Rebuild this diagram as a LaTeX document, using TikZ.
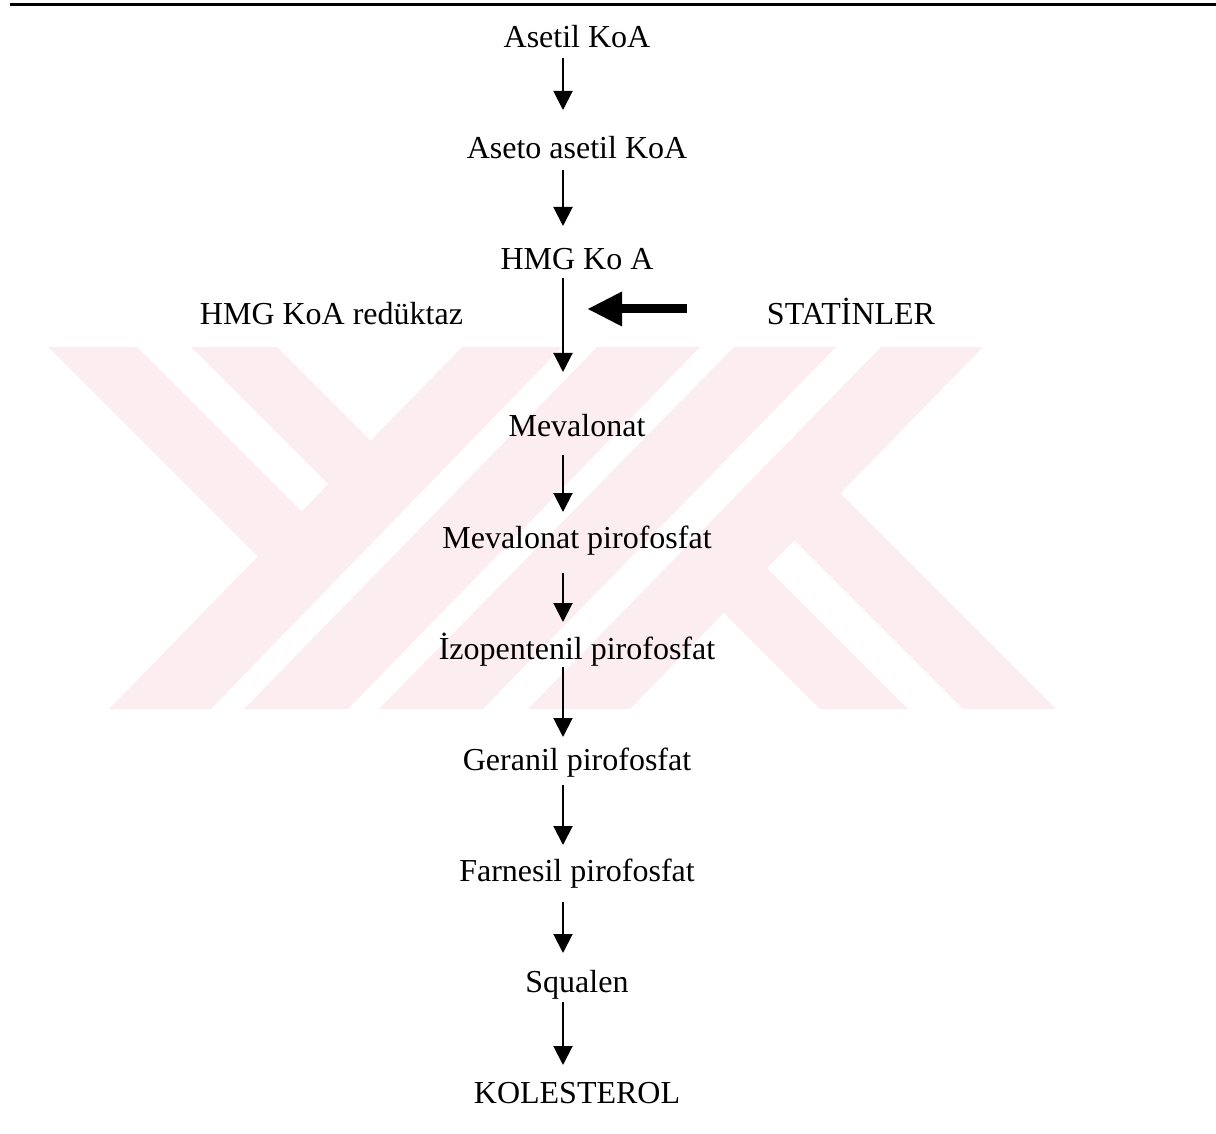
\documentclass[tikz,border=0pt]{standalone}
\usepackage{fontspec}
\setmainfont{Liberation Serif}
\usetikzlibrary{arrows.meta, positioning}
\definecolor{wmpink}{RGB}{252,237,241}

\begin{document}
\begin{tikzpicture}[
        x=0.5pt, y=-0.5pt,
        chem/.style={inner sep=0pt, outer sep=0pt, text height=11pt, text depth=4pt, font=\fontsize{16}{19}\selectfont},
        flow/.style={-{Triangle[length=9.5pt, width=9.5pt]}, line width=1pt},
        block/.style={-{Triangle[length=17pt, width=17.5pt, line width=0pt]}, line width=4.5pt},
        watermark/.style={fill=wmpink, draw=none},
        node distance=40.5pt
        ]
        \useasboundingbox (0,0) rectangle (1216,1134);

        % Watermark
        \fill[watermark] (462,347) -- (562,347) -- (211,709) -- (109,709) -- cycle;
        \fill[watermark] (597,347) -- (700,347) -- (348,709) -- (244,709) -- cycle;
        \fill[watermark] (734,347) -- (836,347) -- (483,709) -- (379,709) -- cycle;
        \fill[watermark] (881,347) -- (983,347) -- (630,709) -- (528,709) -- cycle;
        \fill[watermark] (48,347) -- (137,347) -- (320,530) -- (273,572) -- cycle;
        \fill[watermark] (191,347) -- (277,347) -- (385,455) -- (344,500) -- cycle;
        \fill[watermark] (820,709) -- (908,709) -- (759,560) -- (701,590) -- cycle;
        \fill[watermark] (963,709) -- (1056,709) -- (827,480) -- (764,510) -- cycle;

        % Top rule
        \draw[line width=1.5pt] (10,4.5) -- (1216,4.5);

        % Nodes
        \node (acetyl) [chem, anchor=base] at (577,48) {Asetil KoA};
        \node (acetoacetyl) [chem, below=of acetyl] {Aseto asetil KoA};
        \node (hmg) [chem, below=of acetoacetyl] {HMG Ko A};
        \node (mevalonate) [chem, below=68.5pt of hmg] {Mevalonat};
        \node (mevpp) [chem, below=of mevalonate] {Mevalonat pirofosfat};
        \node (ipp) [chem, below=of mevpp] {İzopentenil pirofosfat};
        \node (gpp) [chem, below=of ipp] {Geranil pirofosfat};
        \node (fpp) [chem, below=of gpp] {Farnesil pirofosfat};
        \node (squalene) [chem, below=of fpp] {Squalen};
        \node (chol) [chem, below=of squalene] {KOLESTEROL};
        \node (reductase) [chem, anchor=base] at (331.5,325) {HMG KoA redüktaz};
        \node (statin) [chem, anchor=base] at (851,325) {STATİNLER};
        \coordinate (hit) at (588,309);

        % Arrows
        \draw[flow, shorten <=1pt, shorten >=13.5pt] ([xshift=-7pt]acetyl.south) -- ([xshift=-7pt]acetoacetyl.north);
        \draw[flow, shorten <=1.5pt, shorten >=11pt] ([xshift=-7pt]acetoacetyl.south) -- ([xshift=-7pt]hmg.north);
        \draw[flow, shorten >=21.5pt] ([xshift=-7pt]hmg.south) -- ([xshift=-7pt]mevalonate.north);
        \draw[flow, shorten <=5pt, shorten >=7pt] ([xshift=-7pt]mevalonate.south) -- ([xshift=-7pt]mevpp.north);
        \draw[flow, shorten <=8.5pt, shorten >=7.5pt] ([xshift=-7pt]mevpp.south) -- ([xshift=-7pt]ipp.north);
        \draw[flow, shorten >=5.5pt] ([xshift=-7pt]ipp.south) -- ([xshift=-7pt]gpp.north);
        \draw[flow, shorten <=3.5pt, shorten >=7pt] ([xshift=-7pt]gpp.south) -- ([xshift=-7pt]fpp.north);
        \draw[flow, shorten <=6.5pt, shorten >=8.5pt] ([xshift=-7pt]fpp.south) -- ([xshift=-7pt]squalene.north);
        \draw[flow, shorten <=1pt, shorten >=8pt] ([xshift=-7pt]squalene.south) -- ([xshift=-7pt]chol.north);
        \draw[block] ([xshift=-40pt, yshift=8pt]statin.base west) -- (hit);

\end{tikzpicture}
\end{document}
